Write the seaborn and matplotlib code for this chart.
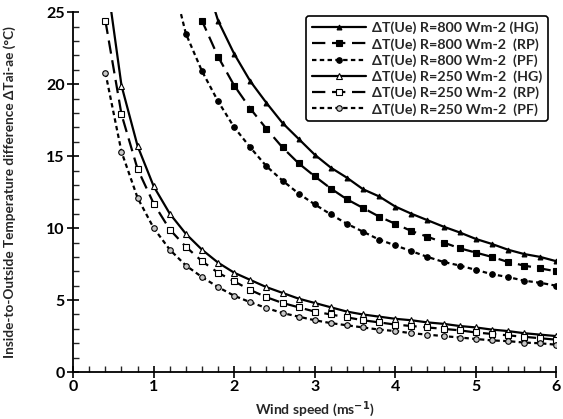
import numpy as np
import matplotlib
matplotlib.use("Agg")
import matplotlib.pyplot as plt
import seaborn as sns
from matplotlib.ticker import MultipleLocator

# wind speed sample points (m/s)
x_250 = [0.4, 0.6, 0.8, 1.0, 1.2, 1.4, 1.6, 1.8, 2.0, 2.2, 2.4, 2.6, 2.8, 3.0, 3.2,
         3.4, 3.6, 3.8, 4.0, 4.2, 4.4, 4.6, 4.8, 5.0, 5.2, 5.4, 5.6, 5.8, 6.0]
x_hg800 = [1.6, 1.8, 2.0, 2.2, 2.4, 2.6, 2.8, 3.0, 3.2, 3.4, 3.6, 3.8, 4.0, 4.2,
           4.4, 4.6, 4.8, 5.0, 5.2, 5.4, 5.6, 5.8, 6.0]
x_rp800 = [1.4] + x_hg800
x_pf800 = [1.2] + x_rp800

# temperature difference (degC), first points run off the top of the chart
hg_800 = [28.0, 24.4, 22.1, 20.2, 18.7, 17.3, 16.2, 15.1, 14.2, 13.5, 12.7, 12.2,
          11.5, 11.0, 10.55, 10.1, 9.7, 9.25, 8.9, 8.5, 8.2, 8.0, 7.7]
rp_800 = [28.5, 24.4, 21.9, 19.9, 18.3, 16.9, 15.6, 14.5, 13.6, 12.75, 12.0, 11.4,
          10.8, 10.3, 9.8, 9.4, 9.0, 8.6, 8.3, 8.0, 7.65, 7.4, 7.2, 7.0]
pf_800 = [28.0, 23.5, 20.9, 18.8, 17.0, 15.6, 14.3, 13.3, 12.4, 11.65, 10.95, 10.3,
          9.75, 9.2, 8.8, 8.4, 8.0, 7.65, 7.4, 7.1, 6.8, 6.6, 6.35, 6.2, 6.0]
hg_250 = [28.0, 19.9, 15.7, 12.9, 11.0, 9.6, 8.5, 7.6, 6.9, 6.4, 5.9, 5.5, 5.1, 4.8,
          4.5, 4.2, 4.0, 3.85, 3.7, 3.6, 3.45, 3.35, 3.2, 3.1, 2.95, 2.85, 2.7, 2.6, 2.5]
rp_250 = [24.4, 17.9, 14.1, 11.7, 9.9, 8.7, 7.7, 6.9, 6.3, 5.7, 5.2, 4.8, 4.5, 4.2,
          4.0, 3.8, 3.6, 3.45, 3.3, 3.2, 3.1, 3.0, 2.9, 2.75, 2.65, 2.55, 2.45, 2.35, 2.25]
pf_250 = [20.8, 15.3, 12.1, 10.0, 8.5, 7.4, 6.6, 5.9, 5.3, 4.85, 4.45, 4.1, 3.85, 3.6,
          3.4, 3.25, 3.1, 2.95, 2.85, 2.7, 2.6, 2.5, 2.4, 2.3, 2.2, 2.15, 2.05, 2.0, 1.9]

labels = ["ΔT(Ue) R=800 Wm-2 (HG)", "ΔT(Ue) R=800 Wm-2  (RP)", "ΔT(Ue) R=800 Wm-2  (PF)",
          "ΔT(Ue) R=250 Wm-2  (HG)", "ΔT(Ue) R=250 Wm-2  (RP)", "ΔT(Ue) R=250 Wm-2  (PF)"]

sns.set_style("ticks")
plt.rcParams["font.family"] = ["Lato", "DejaVu Sans"]
plt.rcParams["font.weight"] = "bold"

fig = plt.figure(figsize=(5.63, 4.19), dpi=100)
ax = fig.add_axes([0.13, 0.112, 0.858, 0.859])

solid = "-"
long_dash = (0, (6, 3))
short_dash = (0, (2, 1.5))

series = [
    (x_hg800, hg_800, solid, "^", "black", 3.5),
    (x_rp800, rp_800, long_dash, "s", "black", 3.8),
    (x_pf800, pf_800, short_dash, "o", "black", 4.0),
    (x_250, hg_250, solid, "^", "white", 4.0),
    (x_250, rp_250, long_dash, "s", "white", 4.5),
    (x_250, pf_250, short_dash, "o", "#c8c8c8", 4.0),
]
for (xs, ys, ls, mk, fc, ms), lab in zip(series, labels):
    sns.lineplot(x=xs, y=ys, ax=ax, color="black", linestyle=ls, linewidth=1.6,
                 marker=mk, markersize=ms, markerfacecolor=fc,
                 markeredgecolor="black", markeredgewidth=0.8, label=lab)

ax.set_xlim(0, 6)
ax.set_ylim(0, 25)
ax.xaxis.set_major_locator(MultipleLocator(1))
ax.xaxis.set_minor_locator(MultipleLocator(0.2))
ax.yaxis.set_major_locator(MultipleLocator(5))
ax.yaxis.set_minor_locator(MultipleLocator(1))
ax.tick_params(which="major", direction="inout", length=8, width=1.2,
               labelsize=11.5, colors="black", pad=2)
ax.tick_params(which="minor", direction="in", length=4, width=1.0)
for lbl in ax.get_xticklabels() + ax.get_yticklabels():
    lbl.set_fontweight("bold")
sns.despine(ax=ax)
for sp in ["left", "bottom"]:
    ax.spines[sp].set_color("black")
    ax.spines[sp].set_linewidth(1.3)

ax.set_xlabel("Wind speed (ms$^{\\mathbf{-1}}$)", fontsize=10, fontweight="bold")
ax.set_ylabel("Inside-to-Outside Temperature difference ΔTai-ae (°C)",
              fontsize=9.8, fontweight="bold")
ax.yaxis.set_label_coords(-0.118, 0.5)
ax.xaxis.set_label_coords(0.5, -0.076)

leg = ax.legend(loc="upper right", bbox_to_anchor=(0.986, 0.979),
                bbox_transform=fig.transFigure, frameon=True, fancybox=True,
                handlelength=3.8, handletextpad=0.4, borderpad=0.4,
                labelspacing=0.25, prop={"size": 10.3, "weight": "bold"})
leg.get_frame().set_edgecolor("black")
leg.get_frame().set_linewidth(1.2)
leg.get_frame().set_alpha(1)

fig.savefig("out.png", dpi=100)
